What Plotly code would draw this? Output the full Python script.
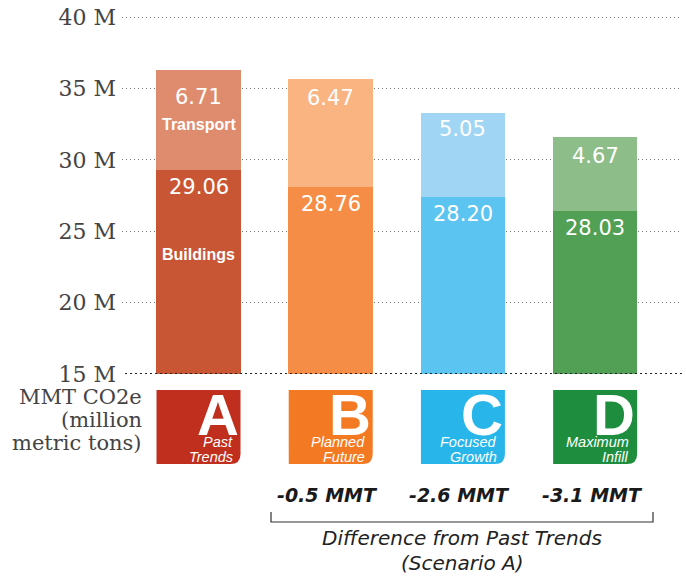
import plotly.graph_objects as go

# ---------------- data ----------------
scenarios = ["A", "B", "C", "D"]
scenario_names = [["Past", "Trends"], ["Planned", "Future"],
                  ["Focused", "Growth"], ["Maximum", "Infill"]]
buildings_label = ["29.06", "28.76", "28.20", "28.03"]
transport_label = ["6.71", "6.47", "5.05", "4.67"]
# bar heights as drawn in the picture (million metric tons)
buildings_height = [29.33, 28.12, 27.39, 26.41]
transport_height = [6.96, 7.56, 5.89, 5.17]
differences = ["-0.5 MMT", "-2.6 MMT", "-3.1 MMT"]
ytick_vals = [15, 20, 25, 30, 35, 40]
ytick_text = ["15 M", "20 M", "25 M", "30 M", "35 M", "40 M"]
ylabel_lines = ["MMT CO2e", "(million", "metric tons)"]
note_lines = ["Difference from Past Trends", "(Scenario A)"]

# ---------------- style ----------------
buildings_colors = ["#C85634", "#F68D46", "#5BC4F0", "#52A055"]
transport_colors = ["#DF8C6E", "#F9B482", "#A0D6F3", "#8DBD89"]
badge_colors = ["#C02F1D", "#F37A23", "#28B5E9", "#1E8E3E"]

W, H = 686, 577
ML, MR, MT, MB = 122, 4, 3, 203
PW, PH = W - ML - MR, H - MT - MB
XR = [-0.5787, 3.657]
YR = [15, 41]
SANS = "DejaVu Sans"
ARIAL = "Liberation Sans"
SERIF = "DejaVu Serif"


def px_x(px):
    return (px - ML) / PW


def px_y(py):
    return (H - MB - py) / PH


def cat_px(i):
    return ML + (i - XR[0]) / (XR[1] - XR[0]) * PW


x = list(range(len(scenarios)))

fig = go.Figure()
fig.add_trace(go.Bar(x=x, y=buildings_height, width=0.64,
                     marker=dict(color=buildings_colors, line=dict(width=0)),
                     hoverinfo="skip"))
fig.add_trace(go.Bar(x=x, y=transport_height, width=0.64,
                     marker=dict(color=transport_colors, line=dict(width=0)),
                     hoverinfo="skip"))

annotations = []
shapes = []

top_offsets = [-27, -19, -16, -19]
for i in x:
    top = buildings_height[i] + transport_height[i]
    annotations.append(dict(x=i, y=top, xref="x", yref="y", text=transport_label[i],
                            showarrow=False, yanchor="middle", yshift=top_offsets[i],
                            font=dict(family=SANS, size=21, color="white")))
    annotations.append(dict(x=i, y=buildings_height[i], xref="x", yref="y",
                            text=buildings_label[i], showarrow=False,
                            yanchor="middle", yshift=-17,
                            font=dict(family=SANS, size=21, color="white")))
# category labels inside bar A
annotations.append(dict(x=0, y=buildings_height[0] + transport_height[0], xref="x", yref="y",
                        text="<b>Transport</b>", showarrow=False, yanchor="middle", yshift=-54,
                        font=dict(family=ARIAL, size=16, color="white")))
annotations.append(dict(x=0, y=buildings_height[0], xref="x", yref="y",
                        text="<b>Buildings</b>", showarrow=False, yanchor="middle", yshift=-85,
                        font=dict(family=ARIAL, size=16, color="white")))

# badges (drawn in paper coordinates, positioned from the category scale)
base_py = H - MB
half = 42
for i in x:
    c = cat_px(i)
    l, r, t, b, rad = c - half, c + half, base_py + 16, base_py + 90, 10
    pts = [("M", l, t), ("L", r, t), ("L", r, b - rad)]
    path = f"M {px_x(l)},{px_y(t)} L {px_x(r)},{px_y(t)} L {px_x(r)},{px_y(b - rad)} "
    path += f"Q {px_x(r)},{px_y(b)} {px_x(r - rad)},{px_y(b)} "
    path += f"L {px_x(l)},{px_y(b)} Z"
    shapes.append(dict(type="path", xref="paper", yref="paper", path=path,
                       fillcolor=badge_colors[i], line=dict(width=0), layer="above"))
    annotations.append(dict(x=px_x(r - 1), y=px_y(414), xref="paper", yref="paper",
                            text=f"<b>{scenarios[i]}</b>",
                            showarrow=False, xanchor="right", yanchor="middle", borderpad=0,
                            font=dict(family=ARIAL, size=58, color="white")))
    for k, line in enumerate(scenario_names[i]):
        annotations.append(dict(x=px_x(r - 7), y=px_y(441.5 + 15.5 * k),
                                xref="paper", yref="paper", text=f"<i>{line}</i>",
                                showarrow=False, xanchor="right", yanchor="middle",
                                borderpad=0,
                                font=dict(family=ARIAL, size=14.5, color="white")))

# baseline at 15 M
shapes.append(dict(type="line", xref="paper", yref="y", x0=px_x(125), x1=px_x(682),
                   y0=15, y1=15, line=dict(color="#222222", width=2, dash="2px,3px"),
                   layer="above"))

# y-axis title lines
for k, line in enumerate(ylabel_lines):
    annotations.append(dict(x=px_x(143), y=px_y(397 + 23 * k), xref="paper", yref="paper",
                            text=line, showarrow=False, xanchor="right", yanchor="middle",
                            borderpad=0,
                            font=dict(family=SERIF, size=21, color="#444444")))

# differences
for j, d in enumerate(differences):
    annotations.append(dict(x=px_x(cat_px(j + 1) - 3), y=px_y(495), xref="paper",
                            yref="paper", text=f"<b><i>{d}</i></b>",
                            showarrow=False, xanchor="center", yanchor="middle",
                            font=dict(family=SANS, size=19, color="#1a1a1a")))

# bracket
bx0, bx1, by0, by1 = px_x(271), px_x(653), px_y(512), px_y(522)
shapes.append(dict(type="path", xref="paper", yref="paper",
                   path=f"M {bx0},{by0} L {bx0},{by1} L {bx1},{by1} L {bx1},{by0}",
                   line=dict(color="#333333", width=1.2)))

for k, line in enumerate(note_lines):
    annotations.append(dict(x=px_x(462), y=px_y(538 + 25 * k), xref="paper", yref="paper",
                            text=f"<i>{line}</i>", showarrow=False, xanchor="center",
                            yanchor="middle",
                            font=dict(family=SANS, size=20, color="#222222")))

fig.update_layout(
    width=W, height=H,
    margin=dict(l=ML, r=MR, t=MT, b=MB),
    paper_bgcolor="white", plot_bgcolor="white",
    barmode="stack", bargap=0, showlegend=False,
    xaxis=dict(range=XR, visible=False, fixedrange=True),
    yaxis=dict(range=YR, tickvals=ytick_vals, ticktext=ytick_text,
               showgrid=True, gridcolor="#7a7a7a", gridwidth=1, griddash="1px,3px",
               zeroline=False, showline=False, ticks="", ticklabelstandoff=5,
               tickfont=dict(family=SERIF, size=22, color="#444444"), fixedrange=True),
    annotations=annotations,
    shapes=shapes,
)

fig.write_html("out.html", config={"displayModeBar": False},
               post_script="document.body.style.margin='0';"
                           "document.body.style.overflow='hidden';")
